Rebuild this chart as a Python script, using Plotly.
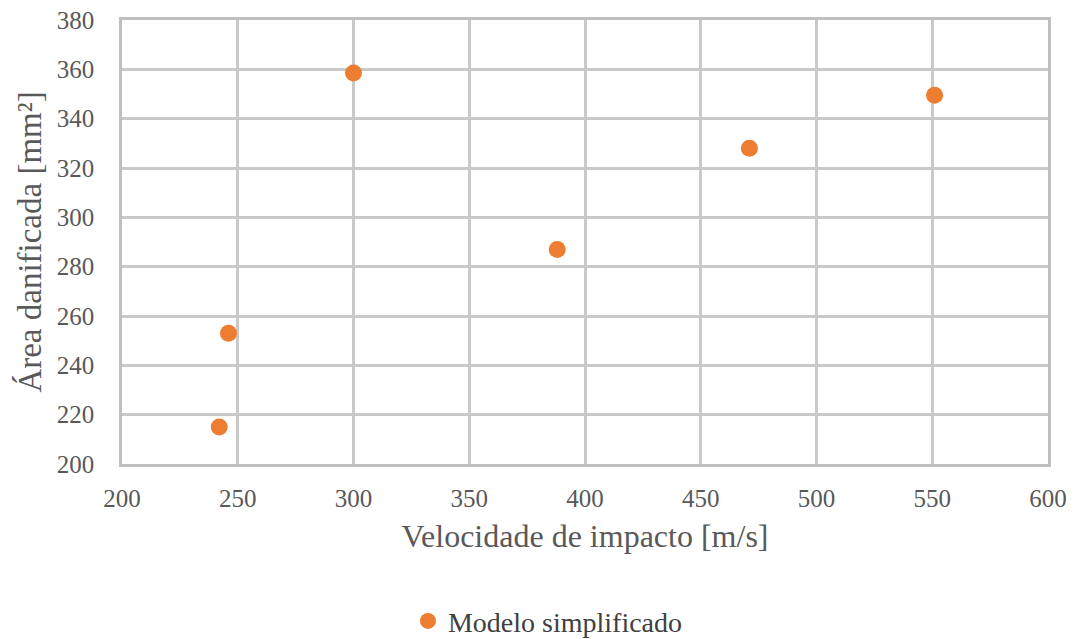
import plotly.graph_objects as go

velocidade = [242, 246, 300, 388, 471, 551]
area = [215, 253, 358.5, 287, 328, 349.5]
serie_nome = "Modelo simplificado"

font_family = "Liberation Serif"

fig = go.Figure()
fig.add_trace(go.Scatter(
    x=velocidade, y=area, mode="markers", name=serie_nome,
    marker=dict(color="#ED7D31", size=17, line=dict(width=0)),
    showlegend=True,
))

fig.update_xaxes(
    range=[200, 600], dtick=50, automargin=False,
    showgrid=True, gridcolor="#c9c9c9", gridwidth=2.5,
    showline=True, linecolor="#bfbfbf", linewidth=2.5, mirror=True,
    zeroline=False, ticks="outside", ticklen=10, tickcolor="rgba(0,0,0,0)",
    tickfont=dict(family=font_family, size=25, color="#595959"),
    title=dict(text="Velocidade de impacto [m/s]",
               font=dict(family=font_family, size=32, color="#595959"), standoff=14),
)
fig.update_yaxes(
    range=[200, 380], dtick=20, automargin=False,
    showgrid=True, gridcolor="#c9c9c9", gridwidth=2.5,
    showline=True, linecolor="#bfbfbf", linewidth=2.5, mirror=True,
    zeroline=False, ticks="outside", ticklen=20, tickcolor="rgba(0,0,0,0)",
    tickfont=dict(family=font_family, size=25, color="#595959"),
    title=dict(text="Área danificada [mm²]",
               font=dict(family=font_family, size=33, color="#595959"), standoff=6),
)
fig.update_layout(
    width=1077, height=639,
    margin=dict(l=122, r=29, t=20, b=175, autoexpand=False),
    paper_bgcolor="white", plot_bgcolor="white",
    font=dict(family=font_family, size=25, color="#595959"),
    legend=dict(orientation="h", x=0.46, xanchor="center", y=-0.354, yanchor="middle",
                font=dict(family=font_family, size=28, color="#404040"), itemsizing="trace"),
    showlegend=True,
)
fig.write_html("out.html")
